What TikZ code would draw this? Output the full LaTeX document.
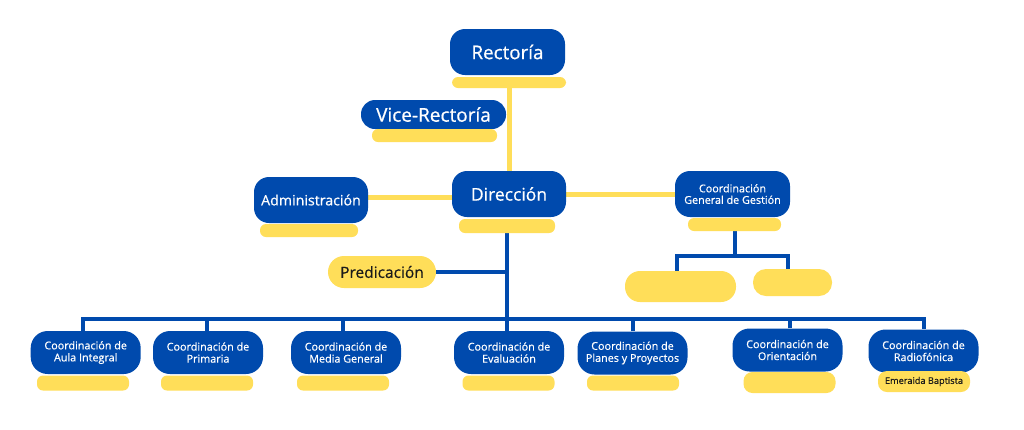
\documentclass[tikz,border=0pt]{standalone}
\usepackage{fontspec}
\setmainfont{Open Sans}[FakeBold=0.6]
\usetikzlibrary{backgrounds}
\definecolor{cblue}{HTML}{004AAD}
\definecolor{cyel}{HTML}{FFDE59}
\definecolor{cdark}{HTML}{1A1A1A}
\begin{document}
\begin{tikzpicture}[x=1pt,y=-1pt,
  bluebox/.style={rectangle, rounded corners=15pt, fill=cblue, text=white, inner sep=0pt, align=center},
  smallbox/.style={bluebox, rounded corners=17pt, minimum width=110pt, minimum height=43pt, font=\fontsize{10.8}{12}\selectfont},
  ybar/.style={rectangle, rounded corners=6pt, fill=cyel, inner sep=0pt, text=cdark},
  sbar/.style={ybar, minimum width=92pt, minimum height=15pt},
  bline/.style={draw=cblue, line width=4pt},
  yline/.style={draw=cyel, line width=5pt}]
\useasboundingbox (0,0) rectangle (1024,429);
% top levels
\node[bluebox, minimum width=115pt, minimum height=46pt, font=\fontsize{18.8}{20}\selectfont] (rect) at (507.5,52) {Rectoría};
\node[ybar, minimum width=114pt, minimum height=11pt] (rbar) at (509,82.5) {};
\node[bluebox, rounded corners=14pt, minimum width=145pt, minimum height=29pt, font=\fontsize{19}{20}\selectfont] (vice) at (433.5,114.5) {Vice-Rectoría};
\node[ybar, minimum width=125pt, minimum height=13pt] (vbar) at (434.5,135.5) {};
\node[bluebox, minimum width=114pt, minimum height=46pt, font=\fontsize{17.5}{20}\selectfont] (dir) at (509,194) {Dirección};
\node[ybar, minimum width=96pt, minimum height=14pt] (dbar) at (507,226) {};
\node[bluebox, minimum width=114pt, minimum height=46pt, font=\fontsize{14.2}{16}\selectfont] (adm) at (311,200) {Administración};
\node[ybar, minimum width=98pt, minimum height=13pt] (abar) at (309,230.5) {};
\node[bluebox, minimum width=115pt, minimum height=46pt, font=\fontsize{10.8}{11.5}\selectfont] (cgg) at (732.5,194) {Coordinación\\General de Gestión};
\node[ybar, minimum width=93pt, minimum height=13pt] (gbar) at (734.5,224.5) {};
\node[ybar, rounded corners=15pt, minimum width=111pt, minimum height=31pt] (y1) at (680.5,286.5) {};
\node[ybar, rounded corners=13pt, minimum width=79pt, minimum height=27pt] (y2) at (792.5,282.5) {};
\node[ybar, rounded corners=16pt, minimum width=108pt, minimum height=32pt, font=\fontsize{15.5}{17}\selectfont] (pred) at (382,272) {Predicación};
% bottom row
\node[smallbox] (c1) at (85.7,352.5) {Coordinación de\\Aula Integral};
\node[smallbox] (c2) at (208,352.5) {Coordinación de\\Primaria};
\node[smallbox] (c3) at (346,352.5) {Coordinación de\\Media General};
\node[smallbox] (c4) at (509,352.5) {Coordinación de\\Evaluación};
\node[smallbox] (c5) at (632.5,353) {Coordinación de\\Planes y Proyectos};
\node[smallbox] (c6) at (787.5,350) {Coordinación de\\Orientación};
\node[smallbox] (c7) at (923.5,351) {Coordinación de\\Radiofónica};
\node[sbar] (b1) at (83,383) {};
\node[sbar] (b2) at (207,383) {};
\node[sbar] (b3) at (343,383) {};
\node[sbar] (b4) at (508.5,383) {};
\node[sbar] (b5) at (633,383) {};
\node[sbar, minimum height=21pt, rounded corners=9pt] (b6) at (789.5,382.5) {};
\node[sbar, minimum height=21pt, rounded corners=9pt, font=\fontsize{9.2}{10}\selectfont] (b7) at (924,381.5) {Emeraida Baptista};
% connectors
\begin{pgfonlayer}{background}
\fill[white] (0,0) rectangle (1024,429);
\draw[yline] (rbar.south) -- (rbar.south |- dir.north);
\draw[yline] ([yshift=3pt]adm.east) -- ([yshift=3pt]adm.east -| dir.west);
\draw[yline] (dir.east) -- (dir.east -| cgg.west);
\coordinate (gj) at ([yshift=-25pt]gbar.south);
\draw[bline] (gbar.south) -- (gj);
\draw[bline] ([xshift=-3.5pt]y1.north) |- (gj) -| ([xshift=-4.5pt]y2.north);
\coordinate (bus) at ([yshift=-86pt]dbar.south);
\draw[bline] (dbar.south) -- (dbar.south |- c4.north);
\draw[bline] (pred.east) -- (pred.east -| dbar.south);
\draw[bline] (b1 |- c1.north) |- (bus) -| (b7 |- c7.north);
\draw[bline] (b2 |- c2.north) -- (b2 |- bus);
\draw[bline] (b3 |- c3.north) -- (b3 |- bus);
\draw[bline] (b5 |- c5.north) -- (b5 |- bus);
\draw[bline] (b6 |- c6.north) -- (b6 |- bus);
\end{pgfonlayer}
\end{tikzpicture}
\end{document}
